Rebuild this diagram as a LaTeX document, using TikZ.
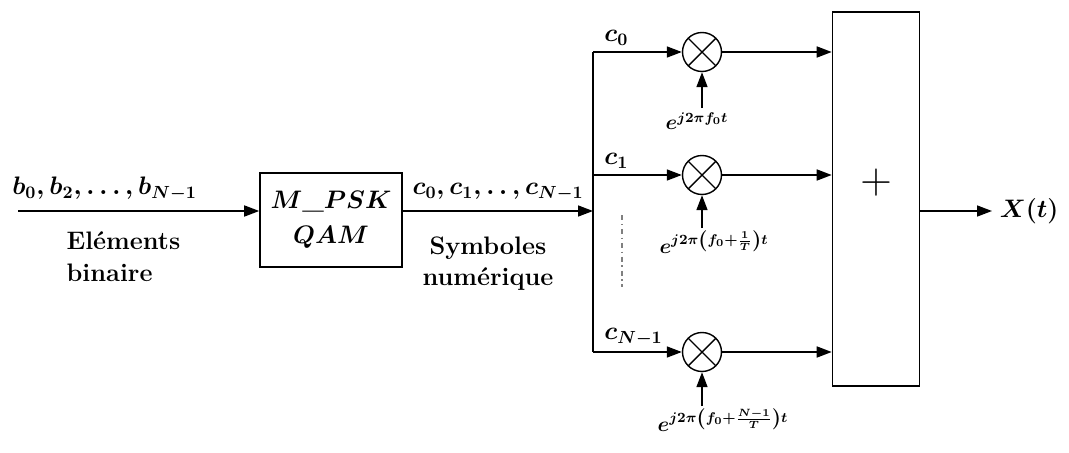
\documentclass[tikz,border=0pt]{standalone}
\usepackage{amsmath,bm}
\usetikzlibrary{arrows.meta,positioning}

\tikzset{
    blk/.style={draw, thick, line width=0.9pt},
    mult/.style={draw, circle, line width=0.8pt, minimum size=0.78cm, inner sep=0pt,
        path picture={
            \draw (path picture bounding box.north west) -- (path picture bounding box.south east)
                  (path picture bounding box.north east) -- (path picture bounding box.south west);}},
    lbl/.style={font=\Large\bfseries\boldmath},
    expo/.style={font=\large\boldmath, inner sep=1pt},
}

\begin{document}
\begin{tikzpicture}[x=0.02cm, y=-0.02cm, line width=0.9pt, >={Triangle[length=3mm,width=2.2mm]}]
    \useasboundingbox (0,0) rectangle (1069,453);

    % blocs
    \node[blk, minimum width=2.84cm, minimum height=1.88cm, align=center, lbl] (mod) at (331,220)
        {$M\_PSK$\\[2pt]$QAM$};
    \node[blk, minimum width=1.74cm, minimum height=7.48cm] (sum) at (876,199) {};
    \node[font=\Huge] (plus) at (876,183) {$+$};

    % multiplieurs
    \node[mult] (mul0) at (702,52) {};
    \node[mult] (mul1) at (702,175) {};
    \node[mult] (mul2) at (702,352) {};

    % entree
    \coordinate (in) at (18,211);
    \coordinate (bus) at (593,211);
    \draw[->] (in) -- (in -| mod.west);
    \node[lbl, anchor=south west, inner sep=2pt] (bits) at (8,205) {$b_0,b_2,\dots,b_{N-1}$};
    \node[lbl, align=left, anchor=north west] (belt) at (60,225) {Eléments\\binaire};

    % symboles
    \draw[->] (mod.east |- bus) -- (bus);
    \node[lbl, anchor=south, inner sep=2pt] (syms) at (498,205) {$c_0,c_1,.\,.\,,c_{N-1}$};
    \node[lbl, align=center, anchor=north] (bsym) at (488,230) {Symboles\\numérique};

    % bus vertical
    \draw (bus |- mul0) -- (bus |- mul2);
    \draw[dash dot, line width=0.6pt, gray] (622,215) -- (622,287);

    % branches
    \foreach \i in {0,1,2} {
        \draw[->] (bus |- mul\i) -- (mul\i.west);
        \draw[->] (mul\i.east) -- (mul\i -| sum.west);
    }
    \node[lbl, anchor=south west, inner sep=2pt] (c0) at (600,50) {$c_0$};
    \node[lbl, anchor=south west, inner sep=2pt] (c1) at (600,173) {$c_1$};
    \node[lbl, anchor=south west, inner sep=2pt] (c2) at (600,350) {$c_{N-1}$};

    % porteuses
    \coordinate (ph0) at (702,108);
    \coordinate (ph1) at (702,228);
    \coordinate (ph2) at (702,406);
    \foreach \i in {0,1,2}
        \draw[->] (ph\i) -- (mul\i.south);
    \node[expo, anchor=north] (e0) at (697,110) {$e^{j2\pi f_0 t}$};
    \node[expo, anchor=north] (e1) at (714,228) {$e^{j2\pi\left(f_0+\frac{1}{T}\right)t}$};
    \node[expo, anchor=north] (e2) at (723,406) {$e^{j2\pi\left(f_0+\frac{N-1}{T}\right)t}$};

    % sortie
    \coordinate (out) at (992,211);
    \draw[->] (sum.east |- out) -- (out);
    \node[lbl, anchor=west, inner sep=4pt] (xt) at (out) {$X(t)$};
\end{tikzpicture}
\end{document}
